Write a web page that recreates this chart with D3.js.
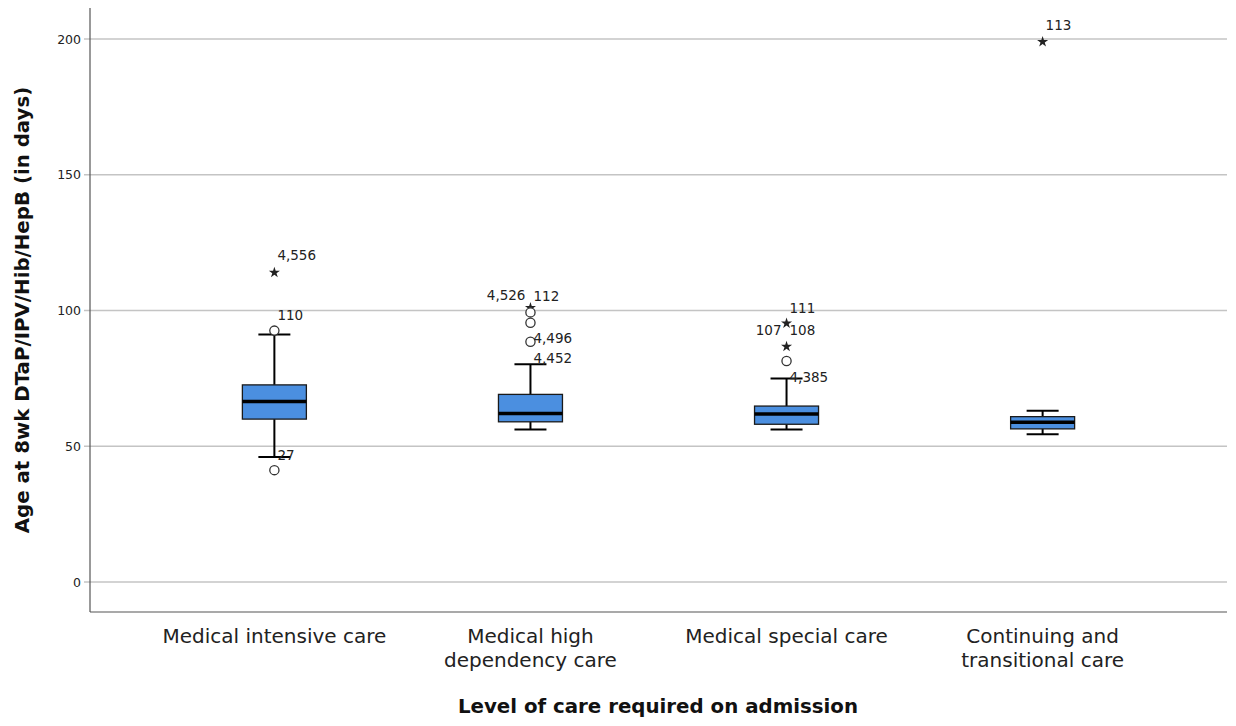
<!DOCTYPE html>
<html>
<head>
<meta charset="utf-8">
<script src="https://cdn.jsdelivr.net/npm/d3@7"></script>
<style>
  body { margin: 0; background: #fff; }
  svg { font-family: "DejaVu Sans", "Liberation Sans", Arial, sans-serif; }
</style>
</head>
<body>
<svg id="chart" width="1236" height="726"></svg>
<script>
// categories and box statistics (days)
const categories = ["Medical intensive care", "Medical high dependency care", "Medical special care", "Continuing and transitional care"];
const categoryLines = [["Medical intensive care"], ["Medical high", "dependency care"], ["Medical special care"], ["Continuing and", "transitional care"]];
const whiskerLow = [46, 56.2, 56.2, 54.4];
const q1 = [60, 59, 58.1, 56.4];
const median = [66.5, 62.1, 61.9, 58.8];
const q3 = [72.6, 69.1, 64.8, 60.9];
const whiskerHigh = [91.2, 80.2, 75, 63.1];

// outliers: circle = mild, star = extreme
const outliers = [
  {cat: 0, value: 114, type: "star"},
  {cat: 0, value: 92.6, type: "circle"},
  {cat: 0, value: 41.2, type: "circle"},
  {cat: 1, value: 101, type: "star"},
  {cat: 1, value: 99.3, type: "circle"},
  {cat: 1, value: 95.5, type: "circle"},
  {cat: 1, value: 88.5, type: "circle"},
  {cat: 2, value: 95.3, type: "star"},
  {cat: 2, value: 86.7, type: "star"},
  {cat: 2, value: 81.4, type: "circle"},
  {cat: 3, value: 199, type: "star"}
];

// case labels: value is the text's vertical position, side tells which side of the point
const caseLabels = [
  {cat: 0, value: 120.3, text: "4,556", side: "right"},
  {cat: 0, value: 98.3, text: "110", side: "right"},
  {cat: 0, value: 46.5, text: "27", side: "right"},
  {cat: 1, value: 105.6, text: "4,526", side: "left"},
  {cat: 1, value: 105.3, text: "112", side: "right"},
  {cat: 1, value: 89.9, text: "4,496", side: "right"},
  {cat: 1, value: 82.5, text: "4,452", side: "right"},
  {cat: 2, value: 101, text: "111", side: "right"},
  {cat: 2, value: 92.6, text: "107", side: "left"},
  {cat: 2, value: 92.6, text: "108", side: "right"},
  {cat: 2, value: 75.5, text: "4,385", side: "right"},
  {cat: 3, value: 205, text: "113", side: "right"}
];

const yTicks = [0, 50, 100, 150, 200];

const svg = d3.select("#chart");
const plotLeft = 90, plotRight = 1227, plotTop = 8, plotBottom = 612;

const x = d3.scalePoint().domain(categories).range([plotLeft, plotRight]).padding(0.72);
const y = d3.scaleLinear().domain([0, 200]).range([582, 39]);

// grid lines
svg.append("g").selectAll("line")
  .data(yTicks)
  .enter().append("line")
  .attr("x1", plotLeft - 6).attr("x2", plotRight)
  .attr("y1", d => y(d)).attr("y2", d => y(d))
  .attr("stroke", "#c4c4c4").attr("stroke-width", 1.5);

// y axis
const yAxis = d3.axisLeft(y).tickValues(yTicks).tickSize(0).tickPadding(9);
const gy = svg.append("g").attr("transform", `translate(${plotLeft},0)`).call(yAxis);
gy.select(".domain").remove();
gy.selectAll("text").attr("font-size", 12.5).attr("fill", "#222")
  .attr("font-family", "DejaVu Sans, sans-serif");

svg.append("line").attr("x1", plotLeft).attr("x2", plotLeft).attr("y1", plotTop).attr("y2", plotBottom)
  .attr("stroke", "#555").attr("stroke-width", 1.2);
svg.append("line").attr("x1", plotLeft).attr("x2", plotRight).attr("y1", plotBottom).attr("y2", plotBottom)
  .attr("stroke", "#555").attr("stroke-width", 1.2);

// boxes
const boxW = 64, capW = 32;
const boxes = svg.append("g").selectAll("g")
  .data(categories)
  .enter().append("g");

boxes.append("line")
  .attr("x1", d => x(d)).attr("x2", d => x(d))
  .attr("y1", (d, i) => y(whiskerHigh[i])).attr("y2", (d, i) => y(q3[i]))
  .attr("stroke", "#000").attr("stroke-width", 2);
boxes.append("line")
  .attr("x1", d => x(d)).attr("x2", d => x(d))
  .attr("y1", (d, i) => y(q1[i])).attr("y2", (d, i) => y(whiskerLow[i]))
  .attr("stroke", "#000").attr("stroke-width", 2);
boxes.append("line")
  .attr("x1", d => x(d) - capW / 2).attr("x2", d => x(d) + capW / 2)
  .attr("y1", (d, i) => y(whiskerHigh[i])).attr("y2", (d, i) => y(whiskerHigh[i]))
  .attr("stroke", "#000").attr("stroke-width", 2);
boxes.append("line")
  .attr("x1", d => x(d) - capW / 2).attr("x2", d => x(d) + capW / 2)
  .attr("y1", (d, i) => y(whiskerLow[i])).attr("y2", (d, i) => y(whiskerLow[i]))
  .attr("stroke", "#000").attr("stroke-width", 2);
boxes.append("rect")
  .attr("x", d => x(d) - boxW / 2).attr("width", boxW)
  .attr("y", (d, i) => y(q3[i])).attr("height", (d, i) => y(q1[i]) - y(q3[i]))
  .attr("fill", "#4b8fe0").attr("stroke", "#1a1a1a").attr("stroke-width", 1.3);
boxes.append("line")
  .attr("x1", d => x(d) - boxW / 2).attr("x2", d => x(d) + boxW / 2)
  .attr("y1", (d, i) => y(median[i])).attr("y2", (d, i) => y(median[i]))
  .attr("stroke", "#000").attr("stroke-width", 3.5);

// outliers
const star = d3.symbol().type(d3.symbolStar).size(38);
svg.append("g").selectAll("path")
  .data(outliers.filter(d => d.type === "star"))
  .enter().append("path")
  .attr("d", star)
  .attr("transform", d => `translate(${x(categories[d.cat])},${y(d.value)})`)
  .attr("fill", "#222");
svg.append("g").selectAll("circle")
  .data(outliers.filter(d => d.type === "circle"))
  .enter().append("circle")
  .attr("cx", d => x(categories[d.cat])).attr("cy", d => y(d.value))
  .attr("r", 4.6)
  .attr("fill", "#fff").attr("stroke", "#333").attr("stroke-width", 1.3);

svg.append("g").selectAll("text")
  .data(caseLabels)
  .enter().append("text")
  .attr("x", d => x(categories[d.cat]) + (d.side === "left" ? -5 : 3))
  .attr("y", d => y(d.value))
  .attr("dy", "0.35em")
  .attr("text-anchor", d => d.side === "left" ? "end" : "start")
  .attr("font-size", 13.5).attr("fill", "#222")
  .text(d => d.text);

// category labels
svg.append("g").selectAll("text")
  .data(categories)
  .enter().append("text")
  .attr("x", d => x(d))
  .attr("y", 643)
  .attr("text-anchor", "middle")
  .attr("font-size", 20).attr("fill", "#222")
  .each(function(d, i) {
    categoryLines[i].forEach((line, j) => {
      d3.select(this).append("tspan")
        .attr("x", x(d)).attr("dy", j === 0 ? 0 : 23.5)
        .text(line);
    });
  });

// axis titles
svg.append("text")
  .attr("x", 658).attr("y", 713)
  .attr("text-anchor", "middle")
  .attr("font-size", 19.8).attr("font-weight", "bold").attr("fill", "#111")
  .text("Level of care required on admission");

svg.append("text")
  .attr("transform", "translate(29,310) rotate(-90)")
  .attr("text-anchor", "middle")
  .attr("font-size", 19.8).attr("font-weight", "bold").attr("fill", "#111")
  .text("Age at 8wk DTaP/IPV/Hib/HepB (in days)");
</script>
</body>
</html>
